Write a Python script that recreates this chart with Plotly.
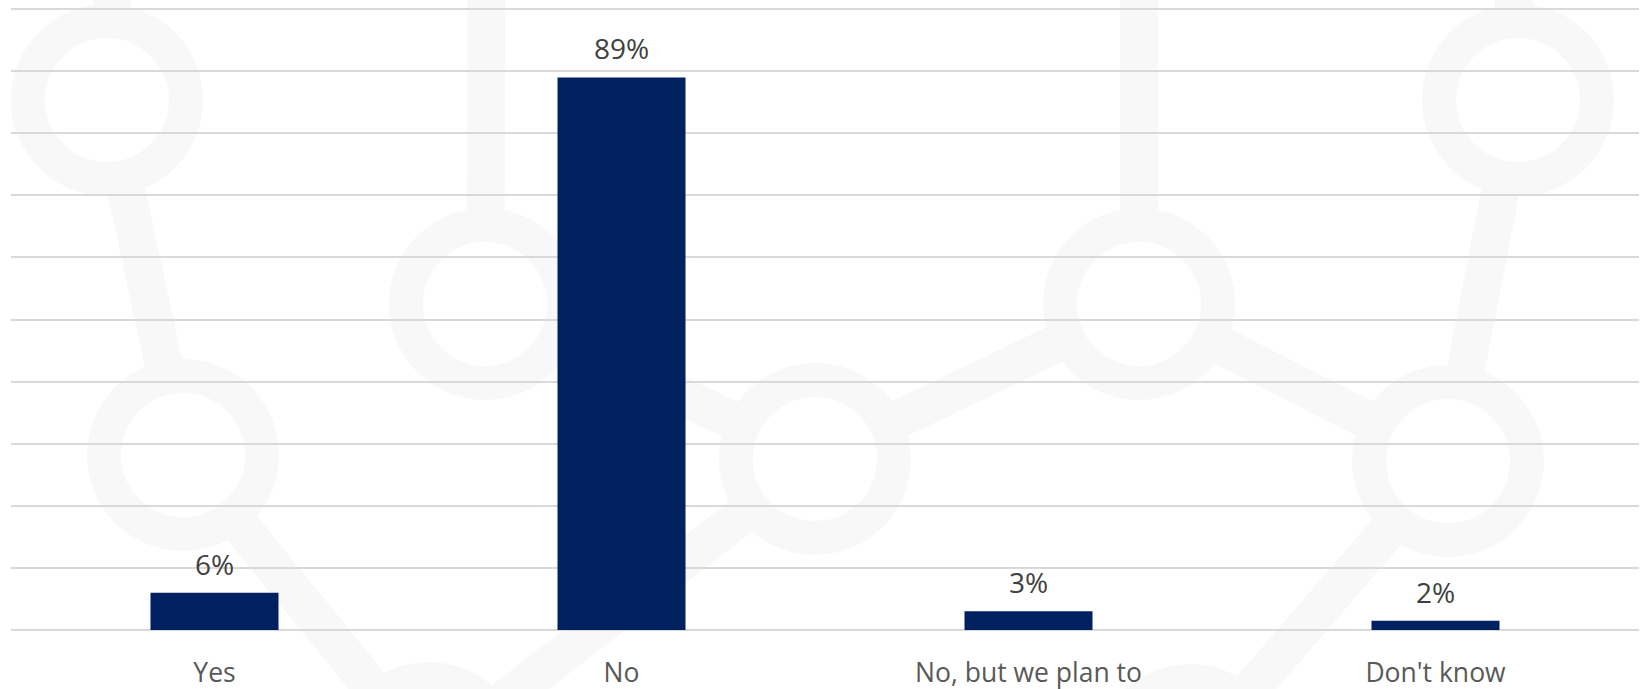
import plotly.graph_objects as go

# ---- data ----
categories = ["Yes", "No", "No, but we plan to", "Don't know"]
values = [6, 89, 3, 1.5]
value_labels = ["6%", "89%", "3%", "2%"]

# ---- styling / layout constants ----
W, H = 1642, 689
ML, MR, MT, MB = 11, 3, 6, 59
PW, PH = W - ML - MR, H - MT - MB
BAR_COLOR = "#002060"
DECO = "#f8f8f8"
FONT = "Open Sans"


def px(x):
    return (x - ML) / PW


def py(y):
    return (H - MB - y) / PH


# decorative background network (pixel positions of the picture)
nodes = {
    "n1": (107, 100), "n2": (183, 455), "n3": (485, 304), "n4": (815, 459),
    "n5": (1139, 304), "n6": (1518, 100), "n7": (1448, 461),
    "na": (429, 758), "nb": (1190, 760),
    "u1": (117, -80), "u3": (487, -80), "u5": (1139, -80), "u6": (1510, -80),
}
edges = [("n1", "u1"), ("n1", "n2"), ("n2", "na"), ("n3", "u3"), ("n3", "n4"),
         ("n4", "na"), ("n4", "n5"), ("n5", "u5"), ("n5", "n7"), ("n6", "u6"),
         ("n6", "n7"), ("n7", "nb")]
rings = ["n1", "n2", "n3", "n4", "n5", "n6", "n7", "na", "nb"]

shapes = []
for a, b in edges:
    (x0, y0), (x1, y1) = nodes[a], nodes[b]
    shapes.append(dict(type="line", xref="paper", yref="paper",
                       x0=px(x0), y0=py(y0), x1=px(x1), y1=py(y1),
                       line=dict(color=DECO, width=38), layer="below"))
R = 79
for n in rings:
    cx, cy = nodes[n]
    shapes.append(dict(type="circle", xref="paper", yref="paper",
                       x0=px(cx - R), x1=px(cx + R), y0=py(cy + R), y1=py(cy - R),
                       fillcolor="white", line=dict(color=DECO, width=34),
                       layer="below"))

fig = go.Figure()
fig.add_trace(go.Bar(x=categories, y=values, marker=dict(color=BAR_COLOR, line=dict(width=0)),
                     hoverinfo="skip"))

annotations = []
for c, v, t in zip(categories, values, value_labels):
    annotations.append(dict(x=c, y=v, xref="x", yref="y", text=t, showarrow=False,
                            yanchor="middle", yshift=29,
                            font=dict(family=FONT, size=28, color="#404040")))

fig.update_layout(
    width=W, height=H,
    margin=dict(l=ML, r=MR, t=MT, b=MB, autoexpand=False),
    paper_bgcolor="rgba(0,0,0,0)", plot_bgcolor="rgba(0,0,0,0)",
    bargap=0.6855,
    showlegend=False,
    shapes=shapes,
    annotations=annotations,
    xaxis=dict(showgrid=False, showline=False, zeroline=False, ticks="", automargin=False,
               tickfont=dict(family=FONT, size=26.5, color="#595959"),
               ticklabelstandoff=24, fixedrange=True),
    yaxis=dict(range=[0, 100.5], tickvals=list(range(0, 101, 10)), showgrid=True,
               gridcolor="#d9d9d9", gridwidth=1.5, automargin=False,
               zeroline=True, zerolinecolor="#d9d9d9", zerolinewidth=1.5,
               showticklabels=False, ticks="", showline=False, fixedrange=True),
)

fig.write_html("out.html", config={"displayModeBar": False},
               post_script="document.body.style.margin='0';document.body.style.overflow='hidden';")
